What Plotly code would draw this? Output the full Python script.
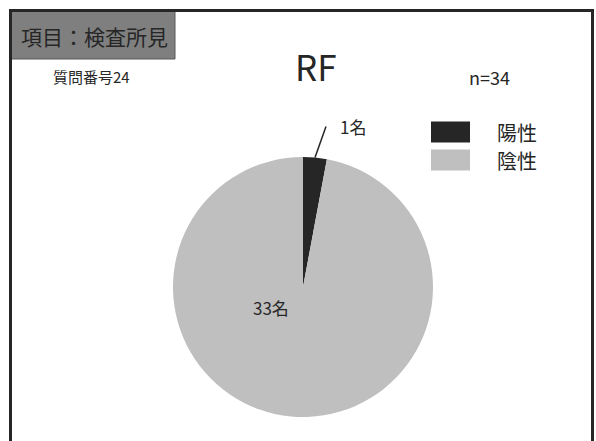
import math
import plotly.graph_objects as go

categories = ["陽性", "陰性"]
counts = [1, 33]
colors = ["#262626", "#bfbfbf"]
title_text = "RF"
item_label = "項目：検査所見"
question_label = "質問番号24"
n_label = "n=34"

W, H = 596, 441
FONT = "Noto Sans CJK JP"
TXT = "#262626"

def px(x):
    return x / W

def py(y):
    return 1 - y / H

# pie geometry (pixels)
CX, CY, R = 303, 287, 130

fig = go.Figure()
fig.add_trace(go.Pie(
    labels=categories,
    values=counts,
    marker=dict(colors=colors, line=dict(width=0)),
    sort=False,
    direction="clockwise",
    rotation=0,
    textinfo="none",
    domain=dict(x=[px(CX - R), px(CX + R)], y=[py(CY + R), py(CY - R)]),
    showlegend=False,
    hoverinfo="label+value",
))

shapes = []
# item box
shapes.append(dict(type="rect", xref="paper", yref="paper",
                   x0=px(11), x1=px(175), y0=py(59), y1=py(10),
                   fillcolor="#7f7f7f", line=dict(color="#595959", width=1), layer="above"))
# frame
shapes.append(dict(type="path", xref="paper", yref="paper",
                   path=f"M {px(10.5)},0 L {px(10.5)},{py(10.5)} L {px(592.5)},{py(10.5)} L {px(592.5)},0",
                   line=dict(color="#262626", width=3), layer="above"))
# legend swatches
leg_y = [132, 160]
for i, c in enumerate(categories):
    shapes.append(dict(type="rect", xref="paper", yref="paper",
                       x0=px(431), x1=px(470), y0=py(leg_y[i] + 10.5), y1=py(leg_y[i] - 10.5),
                       fillcolor=colors[i], line=dict(width=0)))

annotations = [
    dict(text=item_label, x=px(19), y=py(36), xref="paper", yref="paper", xanchor="left", yanchor="middle",
         showarrow=False, font=dict(family=FONT, size=21, color=TXT)),
    dict(text=question_label, x=px(51), y=py(76), xref="paper", yref="paper", xanchor="left", yanchor="middle",
         showarrow=False, font=dict(family=FONT, size=15, color=TXT)),
    dict(text=title_text, x=px(316), y=py(65), xref="paper", yref="paper", xanchor="center", yanchor="middle",
         showarrow=False, font=dict(family=FONT, size=35, color=TXT)),
    dict(text=n_label, x=px(489), y=py(77), xref="paper", yref="paper", xanchor="center", yanchor="middle",
         showarrow=False, font=dict(family=FONT, size=18, color=TXT)),
]
for i, c in enumerate(categories):
    annotations.append(dict(text=c, x=px(495), y=py(leg_y[i]), xref="paper", yref="paper",
                            xanchor="left", yanchor="middle", showarrow=False,
                            font=dict(family=FONT, size=20, color=TXT)))

# data labels
total = sum(counts)
# slice 0 (outside with leader line)
mid0 = (counts[0] / 2) / total * 2 * math.pi
ex, ey = CX + R * math.sin(mid0), CY - R * math.cos(mid0)
lx, ly = ex + 11, ey - 31
shapes.append(dict(type="line", xref="paper", yref="paper",
                   x0=px(ex), y0=py(ey), x1=px(lx), y1=py(ly),
                   line=dict(color=TXT, width=1.5)))
annotations.append(dict(text=f"{counts[0]}名", x=px(lx + 12), y=py(ly), xref="paper", yref="paper",
                        xanchor="left", yanchor="middle", showarrow=False,
                        font=dict(family=FONT, size=17, color=TXT)))
# slice 1 (inside)
annotations.append(dict(text=f"{counts[1]}名", x=px(CX - 32), y=py(CY + 20), xref="paper", yref="paper",
                        xanchor="center", yanchor="middle", showarrow=False,
                        font=dict(family=FONT, size=17, color=TXT)))

fig.update_layout(
    width=W, height=H,
    margin=dict(l=0, r=0, t=0, b=0),
    paper_bgcolor="white", plot_bgcolor="white",
    shapes=shapes, annotations=annotations,
)
fig.write_html("out.html")
